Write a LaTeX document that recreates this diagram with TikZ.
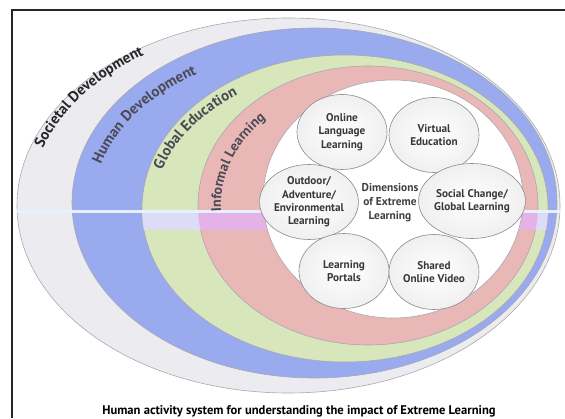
\documentclass[tikz,border=0pt]{standalone}
\usepackage{fontspec}
\setmainfont{PT Sans}
\usetikzlibrary{shapes.geometric,decorations.text}

\definecolor{societal}{HTML}{ECECF0}
\definecolor{human}{HTML}{99AAEE}
\definecolor{globaled}{HTML}{D7E7BB}
\definecolor{informal}{HTML}{E9B7B6}
\definecolor{ringline}{HTML}{A8A8B0}
\definecolor{ringtext}{HTML}{4A4A55}
\definecolor{circline}{HTML}{8A8A8A}
\definecolor{bandgreen}{HTML}{DCDCF4}
\definecolor{bandpink}{HTML}{E4B2E6}
\definecolor{bandline}{HTML}{E8F0FF}

\tikzset{
  ring/.style={draw=ringline, line width=0.6pt},
  ringlabel/.style={decorate, decoration={text along path, text align=left, text={#1}}},
  dimension/.style={ellipse, draw=circline, line width=0.6pt, inner color=white, outer color=black!6,
    inner sep=0pt, minimum width=90pt, minimum height=75pt, align=center, text=black!78,
    font=\fontsize{11.2}{13.3}\selectfont\bfseries}
}

\begin{document}
\begin{tikzpicture}[x=1pt, y=1pt]
    \useasboundingbox (0,0) rectangle (565,418);
    % Frame
    \draw[line width=1.6pt, black!85] (12,0) -- (12,408) -- (565,408);

    % Draw rings
    \draw[ring, fill=societal] (288.5,212.5) ellipse [x radius=271.5, y radius=187.5];
    \draw[ring, fill=human] (314.5,215) ellipse [x radius=242.5, y radius=175];
    \draw[ring, fill=globaled] (345,209.5) ellipse [x radius=203, y radius=153.5];
    \draw[ring, fill=informal] (368,212.5) ellipse [x radius=170, y radius=139.5];

    % Light band across the rings
    \begin{scope}
        \clip (0,188) rectangle (565,205);
        \fill[bandgreen] (345,209.5) ellipse [x radius=203, y radius=153.5];
        \fill[bandpink] (368,212.5) ellipse [x radius=170, y radius=139.5];
    \end{scope}
    \begin{scope}
        \clip (288.5,212.5) ellipse [x radius=271.5, y radius=187.5];
        \fill[bandline] (0,204.5) rectangle (565,207.5);
    \end{scope}
    \draw[ring, fill=white] (393,219) ellipse [x radius=130, y radius=119];

    % Ring labels
    \path[ringlabel={|\fontsize{15}{15}\selectfont\bfseries\color{black!85}|Societal Development}]
        ([shift={(292,213)}]162:262 and 182) arc [start angle=162, end angle=100, x radius=262, y radius=182];
    \path[ringlabel={|\fontsize{15}{15}\selectfont\bfseries\color{ringtext}|Human Development}]
        ([shift={(325,213)}]165:232 and 157) arc [start angle=165, end angle=100, x radius=232, y radius=157];
    \path[ringlabel={|\fontsize{15}{15}\selectfont\bfseries\color{ringtext}|Global Education}]
        ([shift={(355,211)}]164.5:200 and 138) arc [start angle=164.5, end angle=100, x radius=200, y radius=138];
    \path[ringlabel={|\fontsize{14}{14}\selectfont\bfseries\color{ringtext}|Informal Learning}]
        ([shift={(380,213)}]183:159 and 124) arc [start angle=183, end angle=100, x radius=159, y radius=124];

    % Dimensions
    \node[dimension] (online) at (342,286) {Online\\Language\\Learning};
    \node[dimension] (virtual) at (434,283) {Virtual\\Education};
    \node[dimension] (outdoor) at (309,216) {Outdoor/\\Adventure/\\Environmental\\Learning};
    \node[dimension] (social) at (472,217) {Social Change/\\Global Learning};
    \node[dimension] (portals) at (344,147) {Learning\\Portals};
    \node[dimension] (video) at (434,146) {Shared\\Online Video};
    \node[align=center, text=black!75, font=\fontsize{11.4}{14}\selectfont\bfseries] (dims) at (390,215)
        {Dimensions\\of Extreme\\Learning};

    % Caption
    \node[font=\fontsize{12.6}{14}\selectfont\bfseries] (caption) at (299,7)
        {Human activity system for understanding the impact of Extreme Learning};
\end{tikzpicture}
\end{document}
